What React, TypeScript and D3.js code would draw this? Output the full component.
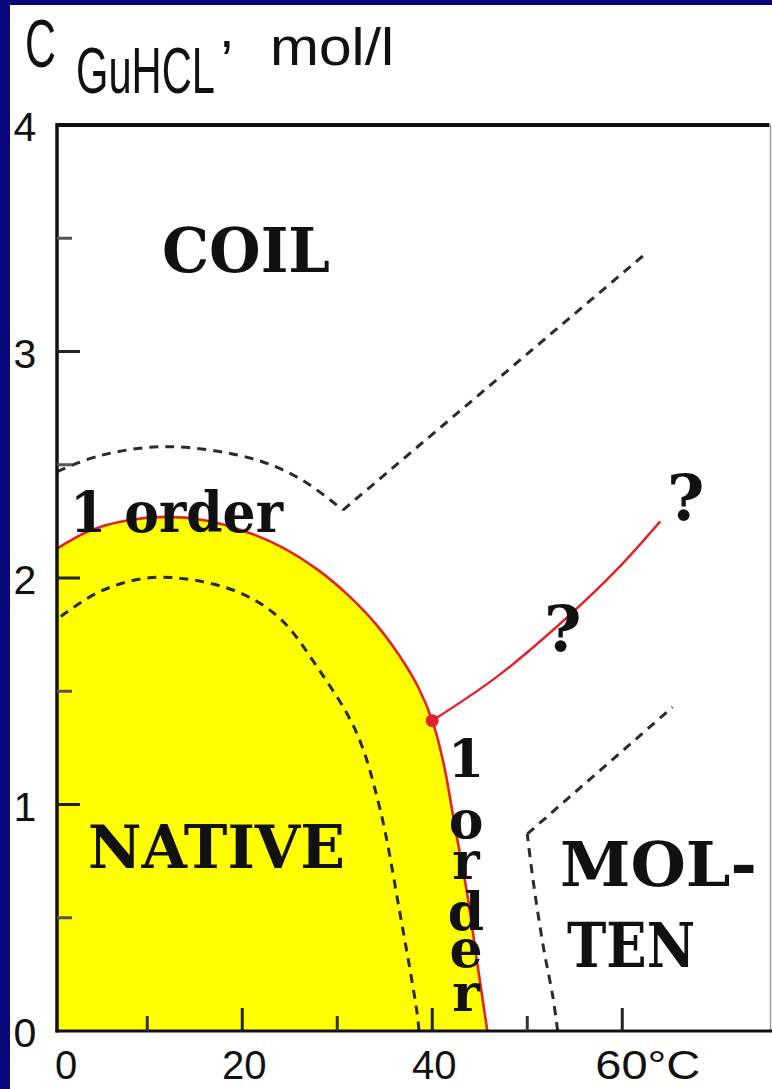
import React from 'react';
import * as d3 from 'd3';

const W = 772;
const H = 1089;

type Pt = [number, number];

// Phase diagram points: [temperature, °C ; GuHCl concentration, mol/l]
const nativeBoundary: Pt[] = [
  [0.5, 2.13], [4, 2.21], [8, 2.255], [12, 2.27], [16, 2.255], [20, 2.21],
  [24, 2.14], [28, 2.035], [31, 1.93], [34, 1.8], [36.5, 1.66], [38.5, 1.52],
  [40, 1.37], [41.2, 1.18], [42.4, 0.9], [43.7, 0.6], [44.7, 0.31], [45.8, 0],
];
const triplePoint: Pt = [40, 1.37];
const uncertainBranch: Pt[] = [[40, 1.37], [47, 1.57], [54.3, 1.83], [59.5, 2.04], [64, 2.25]];

const innerDashed: Pt[] = [
  [0.9, 1.83], [5, 1.94], [10, 2.0], [15, 1.99], [20, 1.93], [24, 1.82],
  [28, 1.6], [32, 1.32], [34.5, 0.98], [36.6, 0.52], [38.4, 0.08], [38.6, 0],
];
const coilArc: Pt[] = [[0.5, 2.47], [5, 2.54], [12, 2.58], [20.8, 2.53], [26, 2.44], [30.6, 2.3]];
const coilRidge: Pt[] = [[30.6, 2.3], [62.4, 3.43]];
const moltenArc: Pt[] = [[53.2, 0], [52.7, 0.15], [51.7, 0.37], [50.6, 0.67], [50, 0.87]];
const moltenRidge: Pt[] = [[50, 0.87], [65.3, 1.43]];

const xMajorTicks = [20, 40, 60];
const xMinorTicks = [10, 30, 50];
const xTickLabels = ['0', '20', '40', '60°C'];
const xLabelValues = [0, 20, 40, 60];
const yMajorTicks = [1, 2, 3];
const yMinorTicks = [0.5, 1.5, 2.5, 3.5];
const yTickValues = [0, 1, 2, 3, 4];
const yTickLabels = ['0', '1', '2', '3', '4'];

const verticalOrder = ['1', 'o', 'r', 'd', 'e', 'r'];
const verticalBaselines = [777, 838, 879, 930, 967, 1011];

const SANS = '"Liberation Sans", Arial, sans-serif';
const SERIF = '"DejaVu Serif", serif';

export default function App() {
  const left = 57;
  const right = 769.5;
  const top = 125;
  const bottom = 1031;

  const x = d3.scaleLinear().domain([0.5, 75.5]).range([left, right]);
  const y = d3.scaleLinear().domain([0, 4]).range([bottom, top]);

  const smooth = d3.curveCatmullRom.alpha(0.5);
  const lineSmooth = d3.line<Pt>().x(d => x(d[0])).y(d => y(d[1])).curve(smooth);
  const lineStraight = d3.line<Pt>().x(d => x(d[0])).y(d => y(d[1]));
  const nativeArea = d3.area<Pt>()
    .x(d => x(d[0]))
    .y0(y(0))
    .y1(d => y(d[1]))
    .curve(smooth);

  const dash = { fill: 'none', stroke: '#2b2b2b', strokeWidth: 3, strokeDasharray: '9 7' };
  const red = '#e2232a';
  const labelY = 1079;

  return (
    <svg width={W} height={H} style={{ position: 'absolute', left: 0, top: 0 }}>
      <rect x={0} y={0} width={W} height={H} fill="#08087c" />
      <rect x={10} y={5} width={W - 10} height={H - 5} fill="#ffffff" />

      {/* NATIVE region */}
      <path d={nativeArea(nativeBoundary) || ''} fill="#ffff00" />

      {/* dashed boundaries */}
      <path d={lineSmooth(innerDashed) || ''} {...dash} />
      <path d={lineSmooth(coilArc) || ''} {...dash} />
      <path d={lineStraight(coilRidge) || ''} {...dash} />
      <path d={lineSmooth(moltenArc) || ''} {...dash} />
      <path d={lineStraight(moltenRidge) || ''} {...dash} />

      {/* first-order transition lines */}
      <path d={lineSmooth(nativeBoundary) || ''} fill="none" stroke={red} strokeWidth={2.6} />
      <path d={lineSmooth(uncertainBranch) || ''} fill="none" stroke={red} strokeWidth={2.4} />
      <circle cx={x(triplePoint[0])} cy={y(triplePoint[1])} r={6.5} fill={red} />

      {/* frame */}
      <line x1={left} x2={right} y1={top} y2={top} stroke="#111" strokeWidth={4} />
      <line x1={right + 1} x2={right + 1} y1={top} y2={bottom} stroke="#9a9a9a" strokeWidth={1.5} />
      <line x1={left} x2={left} y1={top - 2} y2={bottom + 1.5} stroke="#111" strokeWidth={3.5} />
      <line x1={left - 1.5} x2={W} y1={bottom} y2={bottom} stroke="#111" strokeWidth={3} />

      {/* y ticks (inward) */}
      {yMajorTicks.map(v => (
        <line key={`ym${v}`} x1={left} x2={left + 23} y1={y(v)} y2={y(v)} stroke="#222" strokeWidth={3} />
      ))}
      {yMinorTicks.map(v => (
        <line key={`yn${v}`} x1={left} x2={left + 15} y1={y(v)} y2={y(v)} stroke="#555" strokeWidth={3} />
      ))}
      {/* x ticks (inward) */}
      {xMajorTicks.map(v => (
        <line key={`xm${v}`} x1={x(v)} x2={x(v)} y1={bottom} y2={bottom - 23} stroke="#222" strokeWidth={3} />
      ))}
      {xMinorTicks.map(v => (
        <line key={`xn${v}`} x1={x(v)} x2={x(v)} y1={bottom} y2={bottom - 15} stroke="#333" strokeWidth={3} />
      ))}

      {/* tick labels */}
      {yTickValues.map((v, i) => (
        <text key={`yl${v}`} x={25} y={y(v) + 16} fontFamily={SANS} fontSize={41}
          textAnchor="middle" fill="#111">{yTickLabels[i]}</text>
      ))}
      {xLabelValues.map((v, i) => {
        if (i === 0) {
          return <text key="xl0" x={left - 2} y={labelY} fontFamily={SANS} fontSize={40} fill="#111">{xTickLabels[i]}</text>;
        }
        if (i === xLabelValues.length - 1) {
          return <text key={`xl${v}`} x={x(v) - 27} y={labelY} fontFamily={SANS} fontSize={40} fill="#111"
            textLength={105} lengthAdjust="spacingAndGlyphs">{xTickLabels[i]}</text>;
        }
        return <text key={`xl${v}`} x={x(v) + 2} y={labelY} fontFamily={SANS} fontSize={40}
          textAnchor="middle" fill="#111">{xTickLabels[i]}</text>;
      })}

      {/* axis title */}
      <text fontFamily={SANS} fill="#111">
        <tspan x={25} y={67} fontSize={68} textLength={31} lengthAdjust="spacingAndGlyphs">C</tspan>
        <tspan x={76} y={93} fontSize={64} textLength={139} lengthAdjust="spacingAndGlyphs">GuHCL</tspan>
        <tspan x={219} y={47} fontSize={56}>,</tspan>
        <tspan x={270} y={65} fontSize={51} textLength={124} lengthAdjust="spacingAndGlyphs">mol/l</tspan>
      </text>

      {/* region labels */}
      <g fontFamily={SERIF} fontWeight="bold" fill="#111">
        <text x={162} y={272} fontSize={62} textLength={168} lengthAdjust="spacingAndGlyphs">COIL</text>
        <text x={88} y={868} fontSize={59} textLength={257} lengthAdjust="spacingAndGlyphs">NATIVE</text>
        <text x={560} y={886} fontSize={61} textLength={197} lengthAdjust="spacingAndGlyphs">MOL-</text>
        <text x={567} y={967} fontSize={61} textLength={128} lengthAdjust="spacingAndGlyphs">TEN</text>
        <text x={70} y={532} fontSize={56} textLength={213} lengthAdjust="spacingAndGlyphs">1 order</text>
        <text fontSize={52} textAnchor="middle">
          {verticalOrder.map((ch, i) => (
            <tspan key={`vo${i}`} x={466} y={verticalBaselines[i]}>{ch}</tspan>
          ))}
        </text>
        <text x={667} y={520} fontSize={64}>?</text>
        <text x={544} y={651} fontSize={64}>?</text>
      </g>
    </svg>
  );
}
